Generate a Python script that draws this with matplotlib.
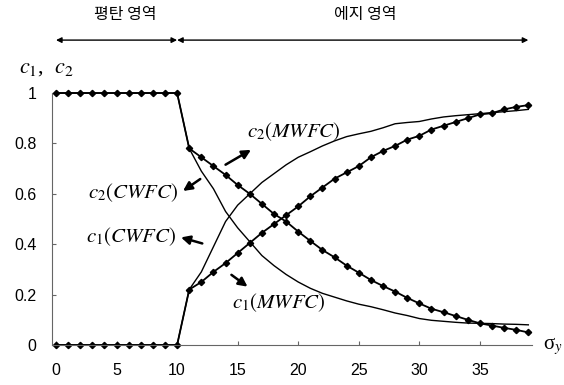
import matplotlib
matplotlib.use('Agg')
import matplotlib.pyplot as plt

# Data (sigma_y from 0 to 39)
sigma = list(range(40))

# descending marker line, labelled c2(CWFC)
c2_cwfc = [1, 1, 1, 1, 1, 1, 1, 1, 1, 1, 1,
           0.78, 0.745, 0.71, 0.675, 0.635, 0.60, 0.56, 0.52, 0.49, 0.45,
           0.413, 0.377, 0.348, 0.315, 0.287, 0.258, 0.234, 0.212, 0.187, 0.165,
           0.144, 0.13, 0.115, 0.10, 0.086, 0.077, 0.068, 0.06, 0.05]
# rising marker line, labelled c1(CWFC)
c1_cwfc = [0, 0, 0, 0, 0, 0, 0, 0, 0, 0, 0,
           0.22, 0.25, 0.29, 0.325, 0.365, 0.405, 0.445, 0.48, 0.515, 0.55,
           0.59, 0.625, 0.66, 0.685, 0.71, 0.745, 0.77, 0.79, 0.815, 0.83,
           0.855, 0.87, 0.885, 0.90, 0.915, 0.92, 0.935, 0.945, 0.952]
# descending solid line, labelled c1(MWFC)
c1_mwfc = [1, 1, 1, 1, 1, 1, 1, 1, 1, 1, 1,
           0.78, 0.69, 0.62, 0.53, 0.465, 0.41, 0.355, 0.315, 0.28, 0.25,
           0.225, 0.205, 0.19, 0.175, 0.162, 0.152, 0.14, 0.127, 0.117, 0.105,
           0.098, 0.094, 0.09, 0.087, 0.086, 0.085, 0.083, 0.082, 0.08]
# rising solid line, labelled c2(MWFC)
c2_mwfc = [0, 0, 0, 0, 0, 0, 0, 0, 0, 0, 0,
           0.22, 0.29, 0.39, 0.49, 0.555, 0.60, 0.645, 0.68, 0.715, 0.745,
           0.767, 0.79, 0.81, 0.827, 0.838, 0.848, 0.862, 0.878, 0.883, 0.887,
           0.897, 0.905, 0.91, 0.914, 0.918, 0.922, 0.926, 0.93, 0.935]

x_ticks = [0, 5, 10, 15, 20, 25, 30, 35]
y_ticks = [0, 0.2, 0.4, 0.6, 0.8, 1]
y_tick_labels = ['0', '0.2', '0.4', '0.6', '0.8', '1']

plt.rcParams['mathtext.fontset'] = 'stix'

fig = plt.figure(figsize=(5.64, 3.85), dpi=100)
ax = fig.add_axes([0.0922, 0.1039, 0.851, 0.6545])

# Solid lines (MWFC)
ax.plot(sigma, c1_mwfc, color='black', lw=1.0, clip_on=False)
ax.plot(sigma, c2_mwfc, color='black', lw=1.0, clip_on=False)
# Marker lines (CWFC)
ax.plot(sigma, c2_cwfc, color='black', lw=1.3, marker='D', markersize=3.2, clip_on=False)
ax.plot(sigma, c1_cwfc, color='black', lw=1.3, marker='D', markersize=3.2, clip_on=False)

ax.set_xlim(-0.33, 39.3)
ax.set_ylim(0, 1)

for side in ['top', 'right']:
  ax.spines[side].set_visible(False)
for side in ['left', 'bottom']:
  ax.spines[side].set_color('#666666')
  ax.spines[side].set_linewidth(0.8)

ax.set_xticks(x_ticks)
ax.set_yticks(y_ticks)
ax.set_yticklabels(y_tick_labels)
ax.tick_params(axis='both', direction='in', length=3, color='#666666',
               labelsize=11.5)
ax.tick_params(axis='x', pad=13)
ax.tick_params(axis='y', pad=11)
for lab in ax.get_xticklabels() + ax.get_yticklabels():
  lab.set_fontfamily('Liberation Sans')

# Axis labels placed as in the reference
fig.text(19 / 564, 1 - 68 / 385, r'$c_1$,  $c_2$', fontsize=16,
         fontfamily='Liberation Serif', ha='left', va='center')
fig.text(543 / 564, 1 - 346 / 385, r'σ$_y$', fontsize=15,
         fontfamily='Liberation Serif', ha='left', va='center')

# Curve labels with arrows
arrow = dict(arrowstyle='-|>', color='black', lw=1.8, mutation_scale=13)
ax.annotate('', xy=(16.3, 0.78), xytext=(13.8, 0.71), arrowprops=arrow)
ax.text(15.8, 0.845, r'$c_2(MWFC)$', fontsize=15, ha='left', va='center')
ax.annotate('', xy=(10.3, 0.605), xytext=(12.1, 0.665), arrowprops=arrow)
ax.text(10.1, 0.605, r'$c_2(CWFC)$', fontsize=15, ha='right', va='center')
ax.annotate('', xy=(10.1, 0.43), xytext=(12.3, 0.40), arrowprops=arrow)
ax.text(9.9, 0.43, r'$c_1(CWFC)$', fontsize=15, ha='right', va='center')
ax.annotate('', xy=(16.0, 0.225), xytext=(14.3, 0.285), arrowprops=arrow)
ax.text(14.5, 0.17, r'$c_1(MWFC)$', fontsize=15, ha='left', va='center')

# Region arrows on top
region = dict(arrowstyle='<|-|>', color='black', lw=1.0, mutation_scale=8,
              shrinkA=0, shrinkB=0)
ax.annotate('', xy=(0, 1.21), xytext=(10, 1.21), xycoords='data',
            arrowprops=region, annotation_clip=False)
ax.annotate('', xy=(10, 1.21), xytext=(39, 1.21), xycoords='data',
            arrowprops=region, annotation_clip=False)
ax.text(5.7, 1.31, '평탄 영역', fontsize=11.5, fontfamily='Noto Sans CJK KR',
        fontweight='medium', ha='center', va='center', clip_on=False)
ax.text(25.5, 1.31, '에지 영역', fontsize=11.5, fontfamily='Noto Sans CJK KR',
        fontweight='medium', ha='center', va='center', clip_on=False)

plt.savefig('out.png', dpi=100)
plt.close()
